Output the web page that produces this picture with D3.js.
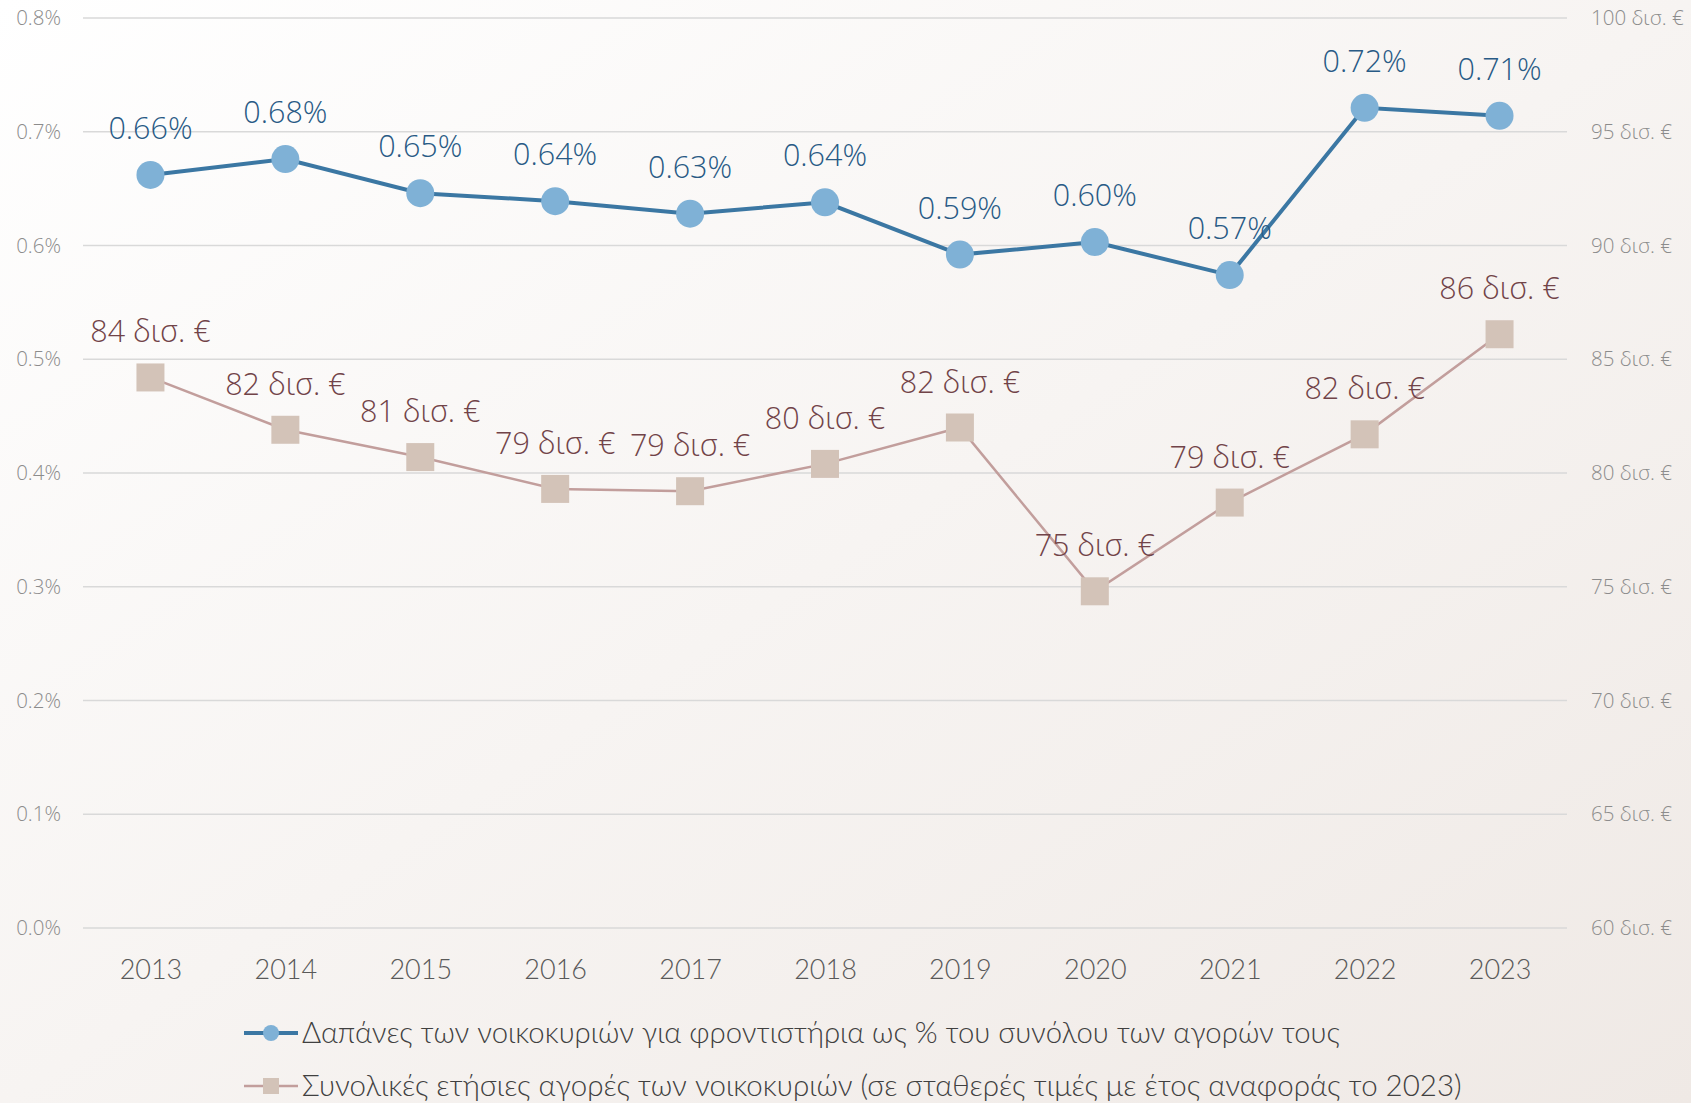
<!DOCTYPE html>
<html>
<head>
<meta charset="utf-8">
<script src="https://cdn.jsdelivr.net/npm/d3@7"></script>
<style>
    html, body { margin: 0; padding: 0; overflow: hidden; }
    svg { display: block; }
</style>
</head>
<body>
<div id="chart"></div>
<script>
const years = ['2013', '2014', '2015', '2016', '2017', '2018', '2019', '2020', '2021', '2022', '2023'];
const sharePct = [0.662, 0.676, 0.646, 0.639, 0.628, 0.638, 0.592, 0.603, 0.574, 0.721, 0.714];
const shareLabels = ['0.66%', '0.68%', '0.65%', '0.64%', '0.63%', '0.64%', '0.59%', '0.60%', '0.57%', '0.72%', '0.71%'];
const purchasesBn = [84.2, 81.9, 80.7, 79.3, 79.2, 80.4, 82.0, 74.8, 78.7, 81.7, 86.1];
const purchasesLabels = ['84 δισ. €', '82 δισ. €', '81 δισ. €', '79 δισ. €', '79 δισ. €', '80 δισ. €', '82 δισ. €', '75 δισ. €', '79 δισ. €', '82 δισ. €', '86 δισ. €'];
const leftTicks = [0, 0.1, 0.2, 0.3, 0.4, 0.5, 0.6, 0.7, 0.8];
const rightTicks = [60, 65, 70, 75, 80, 85, 90, 95, 100];
const legendLabels = [
    'Δαπάνες των νοικοκυριών για φροντιστήρια ως % του συνόλου των αγορών τους',
    'Συνολικές ετήσιες αγορές των νοικοκυριών (σε σταθερές τιμές με έτος αναφοράς το 2023)'
];

const width = 1691;
const height = 1103;
const margin = { top: 18, right: 124, bottom: 175, left: 83 };

const svg = d3.select('#chart')
    .append('svg')
    .attr('width', width)
    .attr('height', height);

// background
const defs = svg.append('defs');
const grad = defs.append('linearGradient')
    .attr('id', 'bg')
    .attr('x1', '0').attr('y1', '0')
    .attr('x2', '1').attr('y2', '1');
grad.append('stop').attr('offset', '0%').attr('stop-color', '#ffffff');
grad.append('stop').attr('offset', '100%').attr('stop-color', '#efe9e5');
svg.append('rect')
    .attr('width', width)
    .attr('height', height)
    .attr('fill', 'url(#bg)');

const x = d3.scalePoint()
    .domain(years)
    .range([margin.left, width - margin.right])
    .padding(0.5);

const yLeft = d3.scaleLinear()
    .domain([0, 0.8])
    .range([height - margin.bottom, margin.top]);

const yRight = d3.scaleLinear()
    .domain([60, 100])
    .range([height - margin.bottom, margin.top]);

// gridlines
svg.append('g')
    .selectAll('line')
    .data(leftTicks)
    .join('line')
    .attr('x1', margin.left)
    .attr('x2', width - margin.right)
    .attr('y1', d => yLeft(d))
    .attr('y2', d => yLeft(d))
    .attr('stroke', '#d9d9d9')
    .attr('stroke-width', 1.5);

// left axis
const leftAxis = svg.append('g')
    .attr('transform', `translate(${margin.left - 22},0)`)
    .call(d3.axisLeft(yLeft).tickValues(leftTicks).tickSize(0).tickPadding(0).tickFormat(d => d.toFixed(1) + '%'));
leftAxis.select('.domain').remove();
leftAxis.selectAll('text')
    .attr('font-family', 'Open Sans')
    .attr('font-weight', 300)
    .attr('font-size', 20.5)
    .attr('fill', '#8c8c8c');

// right axis
const rightAxis = svg.append('g')
    .attr('transform', `translate(${width - margin.right + 24},0)`)
    .call(d3.axisRight(yRight).tickValues(rightTicks).tickSize(0).tickPadding(0).tickFormat(d => d + ' δισ. €'));
rightAxis.select('.domain').remove();
rightAxis.selectAll('text')
    .attr('font-family', 'Open Sans')
    .attr('font-weight', 300)
    .attr('font-size', 20.5)
    .attr('fill', '#8c8c8c');

// x axis
const xAxis = svg.append('g')
    .attr('transform', `translate(0,${height - margin.bottom + 32})`)
    .call(d3.axisBottom(x).tickSize(0).tickPadding(0));
xAxis.select('.domain').remove();
xAxis.selectAll('text')
    .attr('font-family', 'Lato')
    .attr('font-weight', 300)
    .attr('font-size', 27)
    .attr('fill', '#595959');

// purchases series (right axis)
const purchases = years.map((yr, i) => ({ year: yr, value: purchasesBn[i], label: purchasesLabels[i] }));

svg.append('path')
    .datum(purchases)
    .attr('fill', 'none')
    .attr('stroke', '#c29e9c')
    .attr('stroke-width', 2.5)
    .attr('d', d3.line().x(d => x(d.year)).y(d => yRight(d.value)));

svg.append('g')
    .selectAll('rect')
    .data(purchases)
    .join('rect')
    .attr('x', d => x(d.year) - 14)
    .attr('y', d => yRight(d.value) - 14)
    .attr('width', 28)
    .attr('height', 28)
    .attr('fill', '#d3c3b8');

svg.append('g')
    .selectAll('text')
    .data(purchases)
    .join('text')
    .attr('x', d => x(d.year))
    .attr('y', d => yRight(d.value) - 35)
    .attr('text-anchor', 'middle')
    .attr('font-family', 'Open Sans')
    .attr('font-weight', 300)
    .attr('font-size', 30.5)
    .attr('fill', '#714348')
    .text(d => d.label);

// share series (left axis)
const share = years.map((yr, i) => ({ year: yr, value: sharePct[i], label: shareLabels[i] }));

svg.append('path')
    .datum(share)
    .attr('fill', 'none')
    .attr('stroke', '#3b77a3')
    .attr('stroke-width', 4)
    .attr('d', d3.line().x(d => x(d.year)).y(d => yLeft(d.value)));

svg.append('g')
    .selectAll('circle')
    .data(share)
    .join('circle')
    .attr('cx', d => x(d.year))
    .attr('cy', d => yLeft(d.value))
    .attr('r', 14)
    .attr('fill', '#7fb1d6');

svg.append('g')
    .selectAll('text')
    .data(share)
    .join('text')
    .attr('x', d => x(d.year))
    .attr('y', d => yLeft(d.value) - 36)
    .attr('text-anchor', 'middle')
    .attr('font-family', 'Open Sans')
    .attr('font-weight', 300)
    .attr('font-size', 30.5)
    .attr('fill', '#285a85')
    .text(d => d.label);

// legend
const legend = svg.append('g');
const legendRows = [
    { y: 1033, target: 1038, stroke: '#3b77a3', sw: 4, fill: '#7fb1d6', shape: 'circle' },
    { y: 1086, target: 1160, stroke: '#c29e9c', sw: 2.5, fill: '#d3c3b8', shape: 'rect' }
];
legendRows.forEach((row, i) => {
    legend.append('line')
        .attr('x1', 244).attr('x2', 298)
        .attr('y1', row.y).attr('y2', row.y)
        .attr('stroke', row.stroke)
        .attr('stroke-width', row.sw);
    if (row.shape === 'circle') {
        legend.append('circle')
            .attr('cx', 271).attr('cy', row.y).attr('r', 8)
            .attr('fill', row.fill);
    } else {
        legend.append('rect')
            .attr('x', 263).attr('y', row.y - 8)
            .attr('width', 16).attr('height', 16)
            .attr('fill', row.fill);
    }
    const t = legend.append('text')
        .attr('x', 302)
        .attr('y', row.y)
        .attr('dy', '0.35em')
        .attr('font-family', 'Lato')
        .attr('font-weight', 300)
        .attr('font-size', 28)
        .attr('fill', '#404040')
        .text(legendLabels[i]);
    // fit the text to the width it has in the picture
    const len = t.node().getComputedTextLength();
    if (len > 0) t.attr('font-size', 28 * row.target / len);
});
</script>
</body>
</html>
